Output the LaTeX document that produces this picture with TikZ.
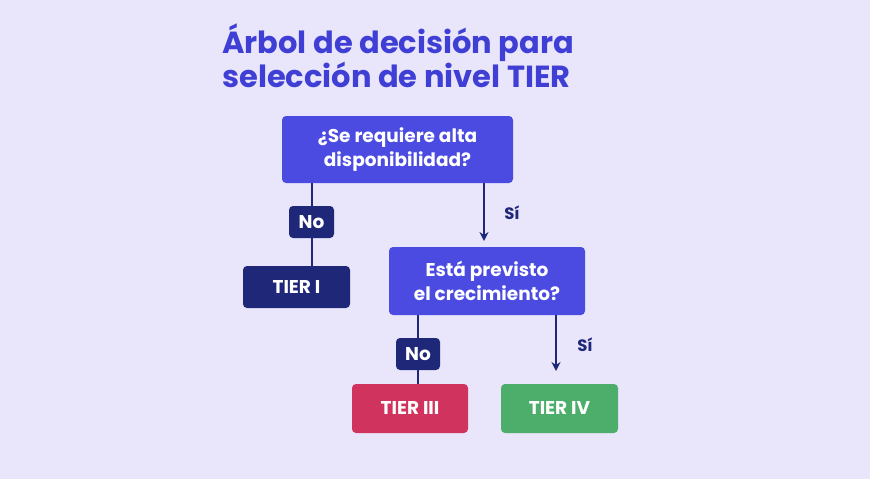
\documentclass[tikz,border=0pt]{standalone}
\usepackage{fontspec}
\setmainfont{Poppins}
\usetikzlibrary{arrows.meta}
\definecolor{bg}{HTML}{E9E6FB}
\definecolor{ttl}{HTML}{3F3FD6}
\definecolor{qbox}{HTML}{4B4BE2}
\definecolor{navy}{HTML}{1F2878}
\definecolor{pink}{HTML}{D1335F}
\definecolor{grn}{HTML}{4DAE6B}
\tikzset{
  box/.style={rounded corners=4pt, text=white, font=\bfseries\fontsize{18.5}{24}\selectfont, align=center, inner sep=0pt},
  conn/.style={navy, line width=2pt},
  arr/.style={navy, line width=2pt, -{Stealth[length=9pt,width=9pt]}},
  lbl/.style={navy, font=\bfseries\fontsize{16.5}{18}\selectfont}
}
\begin{document}
\begin{tikzpicture}[x=1pt,y=-1pt]
\fill[bg] (0,0) rectangle (870,479);
\node[anchor=north west, ttl, font=\bfseries\fontsize{30.5}{34}\selectfont, align=left, inner sep=0pt] (title) at (222,24) {Árbol de decisión para\\selección de nivel TIER};
\node[box, fill=qbox, minimum width=231pt, minimum height=67pt] (q1) at (397.5,149.5) {¿Se requiere alta\\disponibilidad?};
\node[box, fill=navy, minimum width=45pt, minimum height=32pt] (no1) at (311.5,222) {No};
\node[box, fill=navy, minimum width=107pt, minimum height=42pt] (t1) at (296.5,287) {TIER I};
\node[box, fill=qbox, minimum width=196pt, minimum height=68pt] (q2) at (487,281) {Está previsto\\el crecimiento?};
\node[box, fill=navy, minimum width=44pt, minimum height=32pt] (no2) at (418,354) {No};
\node[box, fill=pink, minimum width=116pt, minimum height=49pt] (t3) at (410,408.5) {TIER III};
\node[box, fill=grn, minimum width=117pt, minimum height=49pt] (t4) at (559.5,408.5) {TIER IV};
\coordinate (a1) at (484,183);
\coordinate (a2) at (484,241);
\coordinate (b1) at (556,315);
\coordinate (b2) at (556,371);
\draw[conn] (no1.north |- q1.south) -- (no1.north);
\draw[conn] (no1.south) -- (no1.south |- t1.north);
\draw[conn] (no2.north |- q2.south) -- (no2.north);
\draw[conn] (no2.south) -- (no2.south |- t3.north);
\draw[arr] (a1) -- (a2);
\draw[arr] (b1) -- (b2);
\node[lbl] (s1) at (512,213) {Sí};
\node[lbl] (s2) at (585,345) {Sí};
\end{tikzpicture}
\end{document}
